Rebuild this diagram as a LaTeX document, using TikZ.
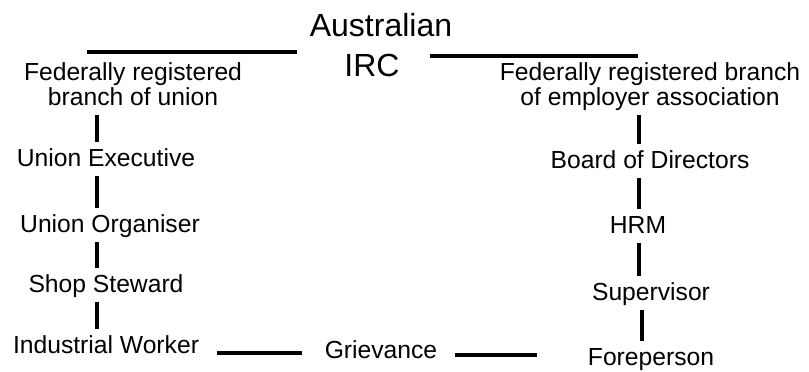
\documentclass[tikz,border=0pt]{standalone}
\usepackage{fontspec}
\setmainfont{Liberation Sans}
\usepackage{tikz}
\usetikzlibrary{positioning}

\tikzset{
    lbl/.style={inner xsep=0pt,inner ysep=3pt,align=center,anchor=base,
        font=\fontsize{18.5}{16.5}\selectfont,text height=14.5pt,text depth=4.5pt},
    big/.style={inner sep=0pt,anchor=base,font=\fontsize{24}{26}\selectfont},
    link/.style={line width=2.3pt}
}

\begin{document}
\begin{tikzpicture}[x=0.75pt,y=-0.75pt]
        \useasboundingbox (0,0) rectangle (809,371);

        % the court on top
        \node[big] (aus) at (381,36) {Australian};
        \node[big] (irc) at (372,76) {IRC};
        \coordinate (topL) at (87,52);
        \coordinate (topR) at (638,56);
        \coordinate (spineL) at (97,0);
        \coordinate (spineR) at (639,0);

        % union side
        \node[lbl] (fedU) at (133,105) {Federally registered\\branch of union};
        \node[lbl] (exec) at (106,166) {Union Executive};
        \node[lbl] (org) at (110,232) {Union Organiser};
        \node[lbl] (steward) at (106,292) {Shop Steward};
        \node[lbl] (worker) at (106,353) {Industrial Worker};

        % employer side
        \node[lbl] (fedE) at (650,105) {Federally registered branch\\of employer association};
        \node[lbl] (board) at (650,168) {Board of Directors};
        \node[lbl] (hrm) at (638,233) {HRM};
        \node[lbl] (super) at (651,300) {Supervisor};
        \node[lbl] (fore) at (651,365) {Foreperson};

        \node[lbl] (griev) at (381,358) {Grievance};

        \draw[link,shorten >=9.75pt] (topL) -- (topL -| aus.west);
        \draw[link,shorten <=22.5pt] (topR -| irc.east) -- (topR);

        \draw[link] (fedU.south -| spineL) -- (exec.north -| spineL);
        \draw[link] (exec.south -| spineL) -- (org.north -| spineL);
        \draw[link] (org.south -| spineL) -- (steward.north -| spineL);
        \draw[link] (steward.south -| spineL) -- (worker.north -| spineL);

        \draw[link] (fedE.south -| spineR) -- (board.north -| spineR);
        \draw[link] (board.south -| spineR) -- (hrm.north -| spineR);
        \draw[link] (hrm.south -| spineR) -- (super.north -| spineR);
        \draw[link] ([xshift=2.25pt]super.south -| spineR) -- ([xshift=2.25pt]fore.north -| spineR);

        \draw[link,shorten <=13.5pt,shorten >=17.25pt] (worker.base east) -- (worker.base east -| griev.west);
        \draw[link,shorten <=13.5pt,shorten >=38.25pt] ([yshift=2.25pt]griev.base east) -- ([yshift=2.25pt]griev.base east -| fore.west);
    \end{tikzpicture}
\end{document}
